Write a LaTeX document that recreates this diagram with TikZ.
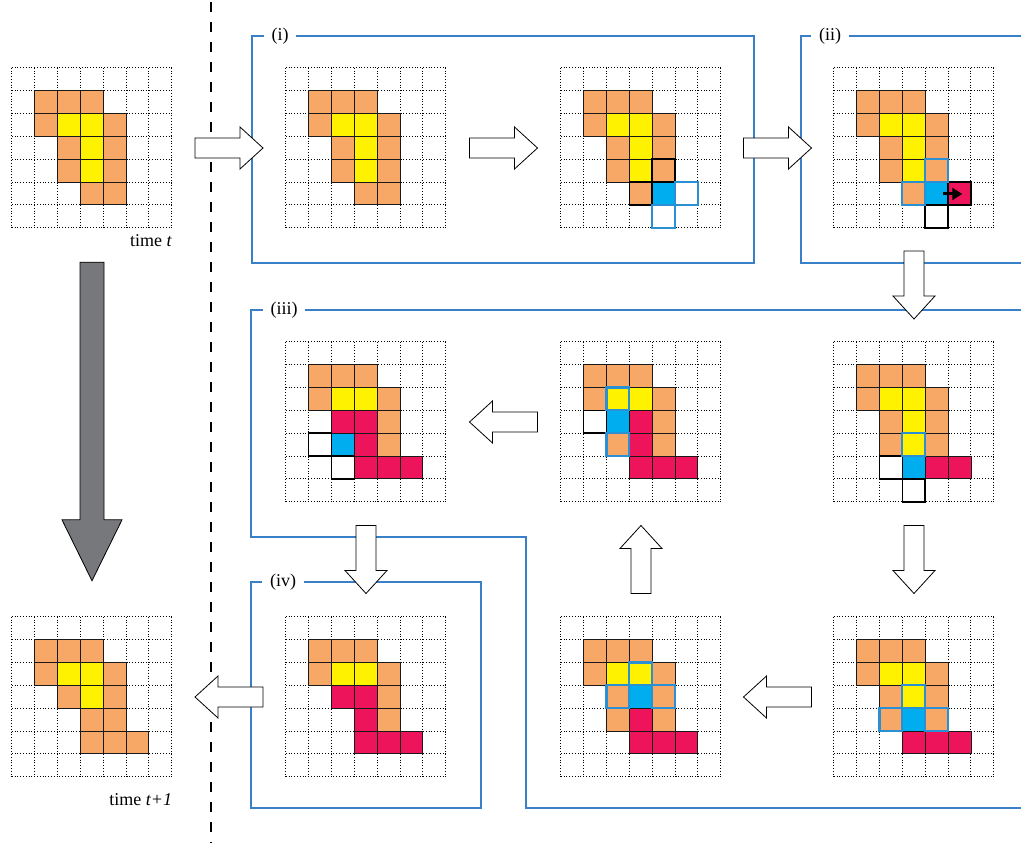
\documentclass[tikz,border=0pt]{standalone}
\usepackage{fontspec}
\setmainfont{Liberation Serif}
\usetikzlibrary{calc,arrows.meta}
\definecolor{cO}{HTML}{F7A866}
\definecolor{cY}{HTML}{FFF200}
\definecolor{cB}{HTML}{00AEEF}
\definecolor{cR}{HTML}{ED145B}
\definecolor{outblue}{HTML}{2B8FD3}
\definecolor{boxblue}{HTML}{3A80C8}
\definecolor{arrowgrey}{HTML}{77787B}
\newcommand{\csz}{22.857}
\tikzset{
  gridline/.style={dash pattern=on 1pt off 1.8pt, line width=1pt, black},
  cellborder/.style={draw=black!90, line width=0.9pt},
  hlblack/.style={draw=black, line width=1.6pt},
  hlblue/.style={draw=outblue, line width=2.2pt},
  stagebox/.style={draw=boxblue, line width=1.3pt},
  stagelabel/.style={fill=white, inner xsep=8pt, inner ysep=1pt, font=\fontsize{18}{20}\selectfont},
  timelabel/.style={anchor=east, inner sep=0pt, font=\fontsize{18}{20}\selectfont},
  whitearrow/.style={draw=black, fill=white, line width=0.8pt, line join=miter},
  greyarrow/.style={draw=black, fill=arrowgrey, line width=0.8pt, line join=miter},
  gridnode/.style={minimum size=160pt, inner sep=0pt, draw=none},
}
\newcommand{\gridlines}{\foreach \k in {0,...,7}{\draw[gridline] (\k*\csz,0) -- (\k*\csz,160); \draw[gridline] (0,\k*\csz) -- (160,\k*\csz);}}
\newcommand{\cells}[2]{\foreach \ci/\ri in {#2}{\filldraw[fill=#1,cellborder] (\ci*\csz,\ri*\csz) rectangle ++(\csz,\csz);}}
\newcommand{\hbk}[1]{\foreach \ci/\ri in {#1}{\draw[hlblack] (\ci*\csz,\ri*\csz) rectangle ++(\csz,\csz);}}
\newcommand{\hbl}[1]{\foreach \ci/\ri in {#1}{\draw[hlblue] (\ci*\csz,\ri*\csz) rectangle ++(\csz,\csz);}}
\newcommand{\warrow}[2]{\draw[whitearrow, shift={#1}, rotate=#2] (-34,-10) -- (11,-10) -- (11,-21) -- (34,0) -- (11,21) -- (11,10) -- (-34,10) -- cycle;}
\begin{document}
\begin{tikzpicture}[x=1pt,y=-1pt]
\useasboundingbox (0,0) rectangle (1021,843);
% dashed separator
\draw[dash pattern=on 10pt off 10pt, line width=1.2pt] (211,2) -- (211,843);
% stage boxes
\draw[stagebox] (252,36) rectangle (754,263);
\draw[stagebox] (1021,36) -- (801,36) -- (801,263) -- (1021,263);
\draw[stagebox] (1021,310) -- (251,310) -- (251,537) -- (526,537) -- (526,808) -- (1021,808);
\draw[stagebox] (251,582) rectangle (481,808);
\node[stagelabel] (li) at (280,36) {(i)};
\node[stagelabel] (lii) at (830,36) {(ii)};
\node[stagelabel] (liii) at (284,310) {(iii)};
\node[stagelabel] (liv) at (283,582) {(iv)};
% grid nodes
\node[gridnode] (g1) at (92,148) {};
\node[gridnode] (g2) at (366,148) {};
\node[gridnode] (g3) at (641,148) {};
\node[gridnode] (g4) at (914,148) {};
\node[gridnode] (g5) at (366,422) {};
\node[gridnode] (g6) at (641,422) {};
\node[gridnode] (g7) at (914,422) {};
\node[gridnode] (g8) at (92,697) {};
\node[gridnode] (g9) at (366,697) {};
\node[gridnode] (g10) at (641,697) {};
\node[gridnode] (g11) at (914,697) {};
% G1
\begin{scope}[shift={(g1.north west)}]
\gridlines
\cells{cO}{1/1,2/1,3/1,1/2,4/2,2/3,4/3,2/4,4/4,3/5,4/5}
\cells{cY}{2/2,3/2,3/3,3/4}
\end{scope}
% G2
\begin{scope}[shift={(g2.north west)}]
\gridlines
\cells{cO}{1/1,2/1,3/1,1/2,4/2,2/3,4/3,2/4,4/4,3/5,4/5}
\cells{cY}{2/2,3/2,3/3,3/4}
\end{scope}
% G3
\begin{scope}[shift={(g3.north west)}]
\gridlines
\cells{cO}{1/1,2/1,3/1,1/2,4/2,2/3,4/3,2/4,4/4,3/5}
\cells{cY}{2/2,3/2,3/3,3/4}
\cells{cB}{4/5}
\hbk{4/4,3/5}
\hbl{5/5,4/6}
\end{scope}
% G4
\begin{scope}[shift={(g4.north west)}]
\gridlines
\cells{cO}{1/1,2/1,3/1,1/2,4/2,2/3,4/3,2/4,4/4,3/5}
\cells{cY}{2/2,3/2,3/3,3/4}
\cells{cB}{4/5}
\cells{cR}{5/5}
\hbk{4/6,5/5}
\hbl{4/4,3/5}
\draw[-{Triangle[length=10pt,width=12pt]}, line width=3pt] (4.78*\csz,5.52*\csz) -- (5.62*\csz,5.52*\csz);
\end{scope}
% G7
\begin{scope}[shift={(g7.north west)}]
\gridlines
\cells{cO}{1/1,2/1,3/1,1/2,4/2,2/3,4/3,2/4,4/4}
\cells{cY}{2/2,3/2,3/3,3/4}
\cells{cB}{3/5}
\cells{cR}{4/5,5/5}
\hbk{2/5,3/6}
\hbl{3/4}
\end{scope}
% G11
\begin{scope}[shift={(g11.north west)}]
\gridlines
\cells{cO}{1/1,2/1,3/1,1/2,4/2,2/3,4/3,2/4,4/4}
\cells{cY}{2/2,3/2,3/3}
\cells{cB}{3/4}
\cells{cR}{3/5,4/5,5/5}
\hbl{3/3,2/4,4/4}
\end{scope}
% G10
\begin{scope}[shift={(g10.north west)}]
\gridlines
\cells{cO}{1/1,2/1,3/1,1/2,4/2,2/3,4/3,2/4,4/4}
\cells{cY}{2/2,3/2}
\cells{cB}{3/3}
\cells{cR}{3/4,3/5,4/5,5/5}
\hbl{3/2,2/3,4/3}
\end{scope}
% G6
\begin{scope}[shift={(g6.north west)}]
\gridlines
\cells{cO}{1/1,2/1,3/1,1/2,4/2,4/3,2/4,4/4}
\cells{cY}{2/2,3/2}
\cells{cB}{2/3}
\cells{cR}{3/3,3/4,3/5,4/5,5/5}
\hbk{1/3}
\hbl{2/2,2/4}
\end{scope}
% G5
\begin{scope}[shift={(g5.north west)}]
\gridlines
\cells{cO}{1/1,2/1,3/1,1/2,4/2,4/3,4/4}
\cells{cY}{2/2,3/2}
\cells{cB}{2/4}
\cells{cR}{2/3,3/3,3/4,3/5,4/5,5/5}
\hbk{1/4,2/5}
\end{scope}
% G9
\begin{scope}[shift={(g9.north west)}]
\gridlines
\cells{cO}{1/1,2/1,3/1,1/2,4/2,4/3,4/4}
\cells{cY}{2/2,3/2}
\cells{cR}{2/3,3/3,3/4,3/5,4/5,5/5}
\end{scope}
% G8
\begin{scope}[shift={(g8.north west)}]
\gridlines
\cells{cO}{1/1,2/1,3/1,1/2,4/2,2/3,4/3,3/4,4/4,3/5,4/5,5/5}
\cells{cY}{2/2,3/2,3/3}
\end{scope}
% time labels
\node[timelabel] (tt) at ($(g1.south east)+(0,12)$) {time \textit{t}};
\node[timelabel] (tt1) at ($(g8.south east)+(0,22)$) {time \textit{t+1}};
% white block arrows
\warrow{($(g1.east)!0.5!(g2.west)$)}{0}
\warrow{($(g2.east)!0.5!(g3.west)$)}{0}
\warrow{($(g3.east)!0.5!(g4.west)$)}{0}
\warrow{($(g4.south)!0.5!(g7.north)$)}{-90}
\warrow{($(g7.south)!0.5!(g11.north)$)}{-90}
\warrow{($(g11.west)!0.5!(g10.east)$)}{180}
\warrow{($(g10.north)!0.5!(g6.south)$)}{90}
\warrow{($(g6.west)!0.5!(g5.east)$)}{180}
\warrow{($(g5.south)!0.5!(g9.north)$)}{-90}
\warrow{($(g9.west)!0.5!(g8.east)$)}{180}
% big grey arrow
\coordinate (gt) at ($(g1.south)+(0,34)$);
\coordinate (gb) at ($(g8.north)+(0,-36)$);
\draw[greyarrow] ($(gt)+(-12,0)$) -- ($(gt)+(12,0)$) -- ($(gb)+(12,-61)$) -- ($(gb)+(30,-61)$) -- (gb) -- ($(gb)+(-30,-61)$) -- ($(gb)+(-12,-61)$) -- cycle;
\end{tikzpicture}
\end{document}
